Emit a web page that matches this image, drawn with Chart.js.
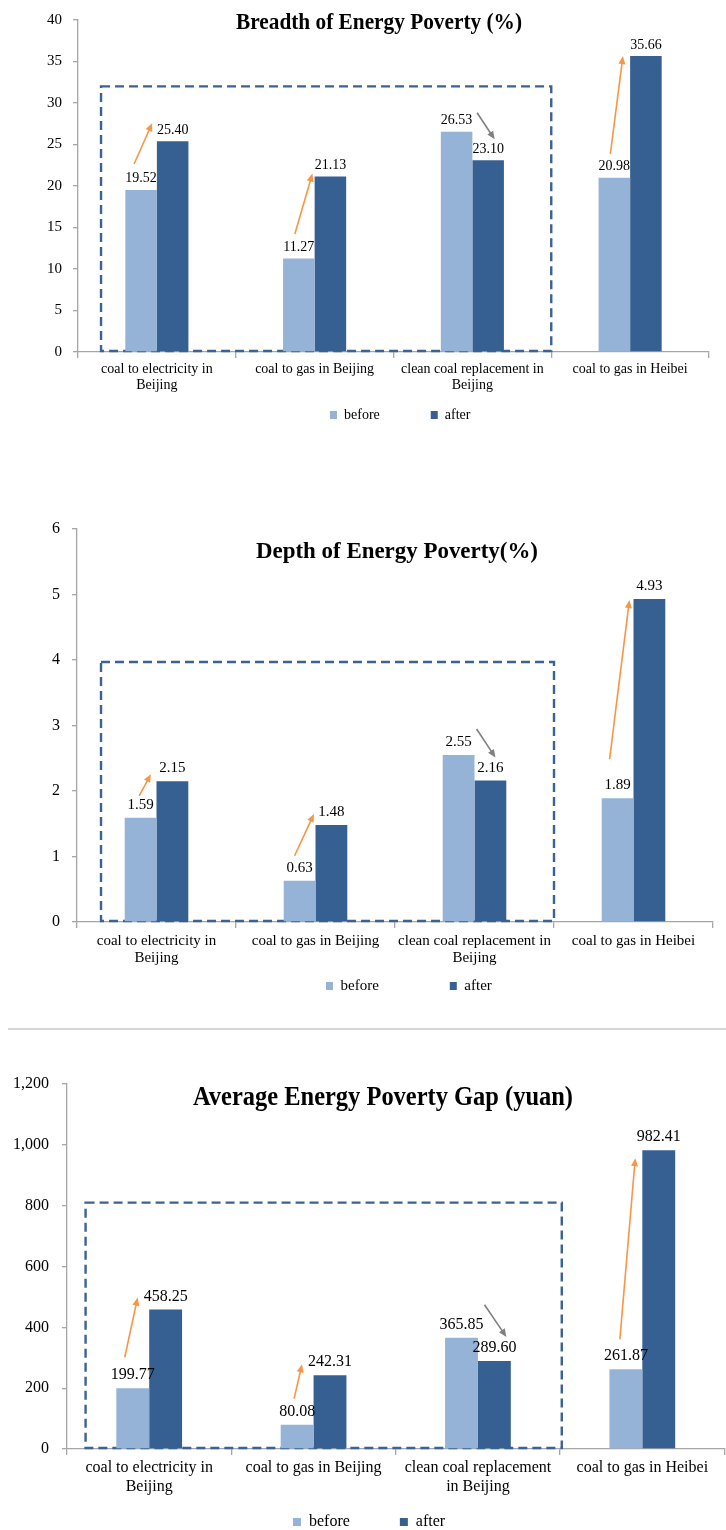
<!DOCTYPE html>
<html>
<head>
<meta charset="utf-8">
<title>Energy poverty before and after the heating policy</title>
<script src="https://cdn.jsdelivr.net/npm/chart.js@4.4.1/dist/chart.umd.min.js"></script>
<style>
  html, body { margin: 0; padding: 0; background: #fff; }
  #page { position: relative; width: 726px; height: 1530px; overflow: hidden; }
  #page canvas { position: absolute; left: 0; }
  #rule { position: absolute; left: 8px; right: 0; top: 1028px; height: 2px; background: #d6d6d6; }
</style>
</head>
<body>
<div id="page">
  <canvas id="chart-breadth" width="726" height="440" style="top:0"></canvas>
  <canvas id="chart-depth" width="726" height="540" style="top:490px"></canvas>
  <div id="rule"></div>
  <canvas id="chart-gap" width="726" height="490" style="top:1040px"></canvas>
</div>
<script>
/* Energy poverty before / after the clean heating policy — three grouped bar charts. */
(function () {
    'use strict';

    // ---- data -------------------------------------------------------------
    var seriesNames = ['before', 'after'];

    var catsBreadth = [['coal to electricity in', 'Beijing'], 'coal to gas in Beijing',
                       ['clean coal replacement in', 'Beijing'], 'coal to gas in Heibei'];
    var catsDepth   = [['coal to electricity in', 'Beijing'], 'coal to gas in Beijing',
                       ['clean coal replacement in', 'Beijing'], 'coal to gas in Heibei'];
    var catsGap     = [['coal to electricity in', 'Beijing'], 'coal to gas in Beijing',
                       ['clean coal replacement', 'in Beijing'], 'coal to gas in Heibei'];

    var breadthBefore = [19.52, 11.27, 26.53, 20.98];
    var breadthAfter  = [25.40, 21.13, 23.10, 35.66];
    var depthBefore   = [1.59, 0.63, 2.55, 1.89];
    var depthAfter    = [2.15, 1.48, 2.16, 4.93];
    var gapBefore     = [199.77, 80.08, 365.85, 261.87];
    var gapAfter      = [458.25, 242.31, 289.60, 982.41];

    var breadthTicks = [0, 5, 10, 15, 20, 25, 30, 35, 40];
    var depthTicks   = [0, 1, 2, 3, 4, 5, 6];
    var gapTicks     = [0, 200, 400, 600, 800, 1000, 1200];

    // ---- styles -----------------------------------------------------------
    var FONT        = "'Liberation Serif', 'Times New Roman', serif";
    var COL_BEFORE  = '#95b3d7';
    var COL_AFTER   = '#376092';
    var COL_AXIS    = '#a6a6a6';
    var COL_BOX     = '#3b6294';
    var COL_UP      = '#f79646';
    var COL_DOWN    = '#808080';

    Chart.defaults.font.family = FONT;
    Chart.defaults.color = '#000';

    // Dashed frame round the Beijing groups (beneath the bars).
    var dashBox = {
        id: 'dashBox',
        beforeDatasetsDraw: function (chart, args, o) {
            var xs = chart.scales.x, ys = chart.scales.y, ctx = chart.ctx;
            var x1 = xs.getPixelForValue(o.from), x2 = xs.getPixelForValue(o.to);
            var y1 = ys.getPixelForValue(o.top),  y2 = ys.getPixelForValue(0) - 1;
            ctx.save();
            ctx.strokeStyle = COL_BOX;
            ctx.lineWidth = 2.4;
            ctx.setLineDash([9, 5]);
            ctx.strokeRect(x1, y1, x2 - x1, y2 - y1);
            ctx.restore();
        }
    };

    // Numbers on top of the bars.
    var valueLabels = {
        id: 'valueLabels',
        afterDatasetsDraw: function (chart, args, o) {
            var ctx = chart.ctx;
            ctx.save();
            ctx.font = o.size + 'px ' + FONT;
            ctx.fillStyle = '#000';
            ctx.textAlign = 'center';
            ctx.textBaseline = 'alphabetic';
            chart.data.datasets.forEach(function (ds, i) {
                chart.getDatasetMeta(i).data.forEach(function (bar, j) {
                    ctx.fillText(ds.data[j].toFixed(2), bar.x, bar.y - o.gap);
                });
            });
            ctx.restore();
        }
    };

    // Trend arrows, anchored on the before / after bar tops.
    var trendArrows = {
        id: 'trendArrows',
        afterDatasetsDraw: function (chart, args, o) {
            var ctx = chart.ctx;
            var b = chart.getDatasetMeta(0).data, a = chart.getDatasetMeta(1).data;
            ctx.save();
            o.items.forEach(function (it) {
                var x1 = b[it.cat].x + it.from[0], y1 = b[it.cat].y + it.from[1];
                var x2 = a[it.cat].x + it.to[0],   y2 = a[it.cat].y + it.to[1];
                var ang = Math.atan2(y2 - y1, x2 - x1);
                var head = 8, half = 3.5;
                ctx.strokeStyle = it.color;
                ctx.fillStyle = it.color;
                ctx.lineWidth = 1.6;
                ctx.beginPath();
                ctx.moveTo(x1, y1);
                ctx.lineTo(x2 - Math.cos(ang) * head * 0.8, y2 - Math.sin(ang) * head * 0.8);
                ctx.stroke();
                ctx.beginPath();
                ctx.moveTo(x2, y2);
                ctx.lineTo(x2 - Math.cos(ang) * head + Math.sin(ang) * half,
                           y2 - Math.sin(ang) * head - Math.cos(ang) * half);
                ctx.lineTo(x2 - Math.cos(ang) * head - Math.sin(ang) * half,
                           y2 - Math.sin(ang) * head + Math.cos(ang) * half);
                ctx.closePath();
                ctx.fill();
            });
            ctx.restore();
        }
    };

    // Title sits inside the plot, as in the source figure.
    var innerTitle = {
        id: 'innerTitle',
        afterDraw: function (chart, args, o) {
            var ctx = chart.ctx;
            ctx.save();
            ctx.font = 'bold ' + o.size + 'px ' + FONT;
            ctx.fillStyle = '#000';
            ctx.textAlign = 'center';
            ctx.textBaseline = 'alphabetic';
            var sx = o.width / ctx.measureText(o.text).width;
            ctx.translate(o.x, o.y);
            ctx.scale(sx, 1);
            ctx.fillText(o.text, 0, 0);
            ctx.restore();
        }
    };

    // Put the legend row where the figure has it (the legend clips to its own box).
    var legendPlace = {
        id: 'legendPlace',
        afterLayout: function (chart, args, o) {
            var lg = chart.legend;
            if (!lg || !lg.lineWidths) return;
            var pad = o.padding;
            var x0 = (lg.left + pad + lg.right - lg.lineWidths[0]) / 2;
            var dx = o.x - x0;
            lg.top = o.y - pad - o.size / 2;
            lg.bottom = o.y + o.size;
            lg.left += dx; lg.right += dx;
        }
    };

    function makeChart(id, c) {
        var ctx = document.getElementById(id).getContext('2d');
        var chart = new Chart(ctx, {
            type: 'bar',
            data: {
                labels: c.cats,
                datasets: [
                    { label: seriesNames[0], data: c.before, backgroundColor: COL_BEFORE },
                    { label: seriesNames[1], data: c.after,  backgroundColor: COL_AFTER }
                ]
            },
            plugins: [dashBox, valueLabels, trendArrows, innerTitle, legendPlace],
            options: {
                responsive: false,
                animation: false,
                devicePixelRatio: 1,
                events: [],
                layout: { padding: { left: 0, top: 0, right: 0, bottom: 0 } },
                datasets: { bar: { categoryPercentage: 0.4, barPercentage: 1.0, borderWidth: 0 } },
                scales: {
                    x: {
                        grid: { drawOnChartArea: false, offset: true, tickLength: 6, color: COL_AXIS, lineWidth: 1.3 },
                        border: { color: COL_AXIS, width: 1.3 },
                        ticks: { font: { size: c.font, lineHeight: 1.15 }, padding: c.xPad, maxRotation: 0, autoSkip: false },
                        afterFit: function (s) { s.height = 46; }
                    },
                    y: {
                        min: c.ticks[0],
                        max: c.ticks[c.ticks.length - 1],
                        grid: { drawOnChartArea: false, tickLength: 5, color: COL_AXIS, lineWidth: 1.3 },
                        border: { color: COL_AXIS, width: 1.3 },
                        ticks: {
                            font: { size: c.tickFont },
                            padding: c.yPad,
                            callback: function (v) { return v.toLocaleString('en-US'); }
                        },
                        afterBuildTicks: function (s) {
                            s.ticks = c.ticks.map(function (v) { return { value: v }; });
                        }
                    }
                },
                plugins: {
                    tooltip: { enabled: false },
                    title: { display: false },
                    legend: {
                        position: 'bottom',
                        maxHeight: 20,
                        labels: {
                            boxWidth: c.box[0], boxHeight: c.box[1],
                            padding: c.legend.padding,
                            font: { size: c.font }
                        }
                    },
                    legendPlace: { x: c.legend.x, y: c.legend.y, padding: c.legend.padding, size: c.font },
                    dashBox: c.frame,
                    valueLabels: { size: c.font, gap: c.labelGap },
                    trendArrows: { items: c.arrows },
                    innerTitle: c.title
                }
            }
        });

        // Nudge the layout padding until the plot area lands on the target.
        var pad = chart.config.options.layout.padding;
        for (var i = 0; i < 4; i++) {
            var a = chart.chartArea;
            var dl = c.area.left - a.left, dt = c.area.top - a.top;
            var dr = a.right - c.area.right, db = a.bottom - c.area.bottom;
            if (Math.abs(dl) + Math.abs(dt) + Math.abs(dr) + Math.abs(db) < 0.3) break;
            pad.left += dl; pad.top += dt; pad.right += dr; pad.bottom += db;
            chart.update('none');
        }
        return chart;
    }

    makeChart('chart-breadth', {
        cats: catsBreadth, before: breadthBefore, after: breadthAfter, ticks: breadthTicks,
        area: { left: 78, top: 21, right: 709, bottom: 352 },
        font: 14, tickFont: 15, xPad: 3, yPad: 11, labelGap: 7.5, box: [7, 8],
        legend: { x: 330, y: 415, padding: 51 },
        frame: { from: -0.354, to: 2.5, top: 32 },
        title: { text: 'Breadth of Energy Poverty (%)', size: 24, width: 286, x: 379, y: 28.5 },
        arrows: [
            { cat: 0, from: [-7, -26],   to: [-20.5, -18], color: COL_UP },
            { cat: 1, from: [-4, -24.5], to: [-18, -3],    color: COL_UP },
            { cat: 2, from: [20.5, -19], to: [6.5, -21],   color: COL_DOWN },
            { cat: 3, from: [-4, -24],   to: [-23, 0],     color: COL_UP }
        ]
    });

    makeChart('chart-depth', {
        cats: catsDepth, before: depthBefore, after: depthAfter, ticks: depthTicks,
        area: { left: 77, top: 39, right: 713, bottom: 432 },
        font: 15, tickFont: 16, xPad: 4, yPad: 12, labelGap: 9, box: [7, 8],
        legend: { x: 326, y: 496, padding: 71 },
        frame: { from: -0.349, to: 2.5, top: 3.97 },
        title: { text: 'Depth of Energy Poverty(%)', size: 23, width: 282, x: 397, y: 67.5 },
        arrows: [
            { cat: 0, from: [-1.5, -22], to: [-21.5, -7], color: COL_UP },
            { cat: 1, from: [-5, -25],   to: [-17.5, -11], color: COL_UP },
            { cat: 2, from: [18, -26],   to: [5, -23],    color: COL_DOWN },
            { cat: 3, from: [-8, -39],   to: [-20, 1],    color: COL_UP }
        ]
    });

    makeChart('chart-gap', {
        cats: catsGap, before: gapBefore, after: gapAfter, ticks: gapTicks,
        area: { left: 67, top: 44, right: 724.5, bottom: 409 },
        font: 16, tickFont: 16, xPad: 4, yPad: 13, labelGap: 9, box: [8, 8],
        legend: { x: 293, y: 482, padding: 50 },
        frame: { from: -0.387, to: 2.51, top: 810 },
        title: { text: 'Average Energy Poverty Gap (yuan)', size: 28, width: 380, x: 383, y: 64.5 },
        arrows: [
            { cat: 0, from: [-8, -31], to: [-28, -12],  color: COL_UP },
            { cat: 1, from: [-3, -26], to: [-28, -11],  color: COL_UP },
            { cat: 2, from: [23, -33], to: [12, -24],   color: COL_DOWN },
            { cat: 3, from: [-6, -30], to: [-23.5, 8],  color: COL_UP }
        ]
    });
}());
</script>
</body>
</html>
